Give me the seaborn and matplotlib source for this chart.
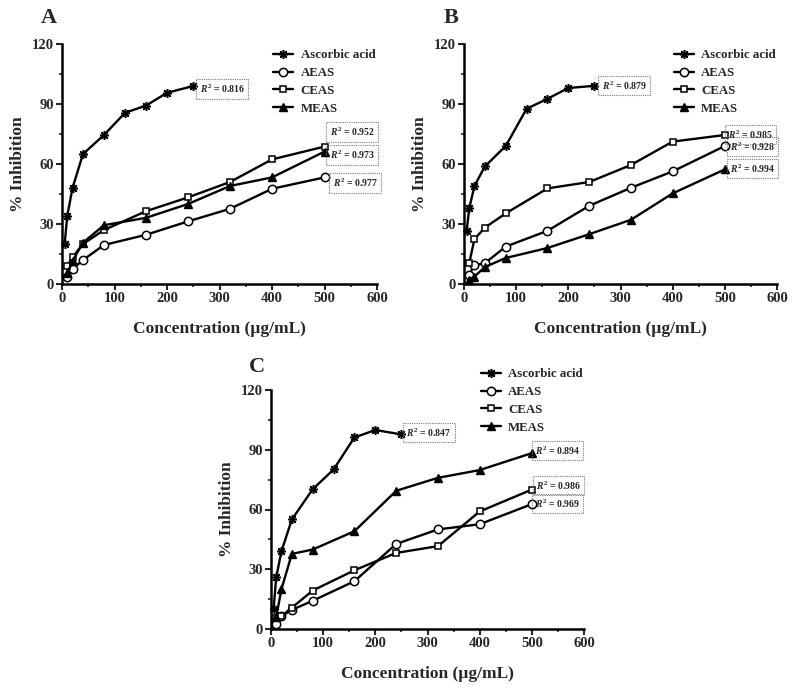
import numpy as np
import pandas as pd
import matplotlib
matplotlib.use("Agg")
import matplotlib.pyplot as plt
from matplotlib.ticker import MultipleLocator
import seaborn as sns

sns.set_theme(style="ticks")
plt.rcParams['font.family'] = ['Liberation Serif', 'DejaVu Serif']
plt.rcParams['font.weight'] = 'bold'
plt.rcParams['mathtext.fontset'] = 'custom'
plt.rcParams['mathtext.it'] = 'Liberation Serif:bold:italic'
plt.rcParams['mathtext.rm'] = 'Liberation Serif:bold'
plt.rcParams['mathtext.bf'] = 'Liberation Serif:bold'

series_names = ["Ascorbic acid", "AEAS", "CEAS", "MEAS"]

# Panel A
a_asc_x = [5, 10, 20, 40, 80, 120, 160, 200, 250]
a_asc_y = [20, 34, 48, 65, 74.5, 85.6, 89.2, 95.6, 99]
a_aeas_x = [10, 20, 40, 80, 160, 240, 320, 400, 500]
a_aeas_y = [3.7, 7.5, 12, 19.5, 24.6, 31.3, 37.6, 47.6, 53.3]
a_ceas_x = [10, 20, 40, 80, 160, 240, 320, 400, 500]
a_ceas_y = [9, 13.4, 20, 27, 36.4, 43.3, 51, 62.3, 68.7]
a_meas_x = [10, 20, 40, 80, 160, 240, 320, 400, 500]
a_meas_y = [5.5, 11.5, 20.7, 29.4, 33.1, 40, 49, 53.3, 66.2]
a_r2 = ["0.816", "0.952", "0.973", "0.977"]
a_r2_pos = [(262, 97.5), (510, 76), (510, 64.5), (516, 50.5)]

# Panel B
b_asc_x = [5, 10, 20, 40, 80, 120, 160, 200, 250]
b_asc_y = [26.5, 37.8, 49, 58.8, 69, 87.6, 92.6, 98, 99.1]
b_aeas_x = [10, 20, 40, 80, 160, 240, 320, 400, 500]
b_aeas_y = [4.7, 9.4, 10.4, 18.7, 26.6, 39.1, 48.1, 56.3, 69]
b_ceas_x = [10, 20, 40, 80, 160, 240, 320, 400, 500]
b_ceas_y = [10.4, 22.4, 28.2, 35.3, 47.8, 51, 59.5, 71.2, 74.5]
b_meas_x = [10, 20, 40, 80, 160, 240, 320, 400, 500]
b_meas_y = [2.2, 3.7, 8.5, 13, 18, 24.9, 32.1, 45.3, 57.3]
b_r2 = ["0.879", "0.985", "0.928", "0.994"]
b_r2_pos = [(264, 99.2), (506, 74.6), (510, 68.6), (510, 57.7)]

# Panel C
c_asc_x = [5, 10, 20, 40, 80, 120, 160, 200, 250]
c_asc_y = [10.2, 26, 39, 55, 70.2, 80.1, 96.2, 99.9, 97.7]
c_aeas_x = [10, 20, 40, 80, 160, 240, 320, 400, 500]
c_aeas_y = [2.5, 6.4, 9.6, 14.2, 24, 42.7, 50, 52.6, 62.7]
c_ceas_x = [10, 20, 40, 80, 160, 240, 320, 400, 500]
c_ceas_y = [5.7, 6.4, 10.7, 19.3, 29.5, 38.2, 41.6, 59, 70]
c_meas_x = [10, 20, 40, 80, 160, 240, 320, 400, 500]
c_meas_y = [6, 20, 37.7, 39.9, 49.1, 69.4, 75.9, 79.8, 88.3]
c_r2 = ["0.847", "0.894", "0.986", "0.969"]
c_r2_pos = [(259, 98.7), (506, 89.6), (508, 71.9), (506, 63)]

x_ticks = [0, 100, 200, 300, 400, 500, 600]
y_ticks = [0, 30, 60, 90, 120]

styles = {
    "Ascorbic acid": dict(marker=(8, 2, 0), markersize=6.5, markeredgewidth=1.1, mfc="black", mec="black"),
    "AEAS": dict(marker="o", markersize=6, markeredgewidth=1.1, mfc="white", mec="black"),
    "CEAS": dict(marker="s", markersize=5, markeredgewidth=1.1, mfc="white", mec="black"),
    "MEAS": dict(marker="^", markersize=5.5, markeredgewidth=1.0, mfc="black", mec="black"),
}

fig = plt.figure(figsize=(7.98, 6.91), dpi=100)
axA = fig.add_axes([62/798, 1-284/691, 315/798, 240/691])
axB = fig.add_axes([464/798, 1-284/691, 313/798, 240/691])
axC = fig.add_axes([271/798, 1-629/691, 313/798, 239/691])

panels = [
    (axA, "A", [(a_asc_x, a_asc_y), (a_aeas_x, a_aeas_y), (a_ceas_x, a_ceas_y), (a_meas_x, a_meas_y)], a_r2, a_r2_pos, 1.0),
    (axB, "B", [(b_asc_x, b_asc_y), (b_aeas_x, b_aeas_y), (b_ceas_x, b_ceas_y), (b_meas_x, b_meas_y)], b_r2, b_r2_pos, 1.0),
    (axC, "C", [(c_asc_x, c_asc_y), (c_aeas_x, c_aeas_y), (c_ceas_x, c_ceas_y), (c_meas_x, c_meas_y)], c_r2, c_r2_pos, 1.113),
]

for ax, letter, data, r2, r2pos, legy in panels:
    for name, (xs, ys) in zip(series_names, data):
        df = pd.DataFrame({"x": xs, "y": ys})
        sns.lineplot(data=df, x="x", y="y", ax=ax, color="black", linewidth=1.7,
                     label=name, clip_on=False, zorder=3, **styles[name])
    for i, (txt, (px, py)) in enumerate(zip(r2, r2pos)):
        ax.text(px, py, r"$R^2$ = " + txt, fontsize=7, fontweight="bold", ha="left", va="center",
                zorder=5 + (4 - i) * 0.1,
                bbox=dict(boxstyle="square,pad=0.35", fc="none", ec="#777777", ls=(0, (1, 1)), lw=0.8))
    ax.set_xlim(0, 600)
    ax.set_ylim(0, 120)
    ax.set_xticks(x_ticks)
    ax.set_yticks(y_ticks)
    ax.xaxis.set_minor_locator(MultipleLocator(50))
    ax.yaxis.set_minor_locator(MultipleLocator(15))
    ax.tick_params(axis="both", which="major", direction="out", length=4, width=1.5, labelsize=10.5, pad=2)
    ax.tick_params(axis="both", which="minor", direction="out", length=2.5, width=1.2)
    for lab in ax.get_xticklabels() + ax.get_yticklabels():
        lab.set_fontweight("bold")
    for s in ["top", "right"]:
        ax.spines[s].set_visible(False)
    for s in ["left", "bottom"]:
        ax.spines[s].set_linewidth(1.8)
        ax.spines[s].set_color("black")
    ax.set_xlabel("Concentration (µg/mL)", fontsize=12.5, fontweight="bold")
    ax.set_ylabel("% Inhibition", fontsize=12.5, fontweight="bold")
    ax.xaxis.set_label_coords(0.5, -0.155)
    ax.yaxis.set_label_coords(-0.115, 0.5)
    ax.grid(False)
    leg = ax.legend(loc="upper left", bbox_to_anchor=(0.655, legy), frameon=False,
                    handlelength=1.5, handletextpad=0.6, labelspacing=0.45,
                    borderaxespad=0.0, prop=dict(weight="bold", size=9.3))

fig.text(49/798, 1-18/691, "A", fontsize=16, fontweight="bold", ha="center", va="center")
fig.text(451/798, 1-18/691, "B", fontsize=16, fontweight="bold", ha="center", va="center")
fig.text(257/798, 1-367/691, "C", fontsize=16, fontweight="bold", ha="center", va="center")

fig.savefig("out.png", dpi=100)
